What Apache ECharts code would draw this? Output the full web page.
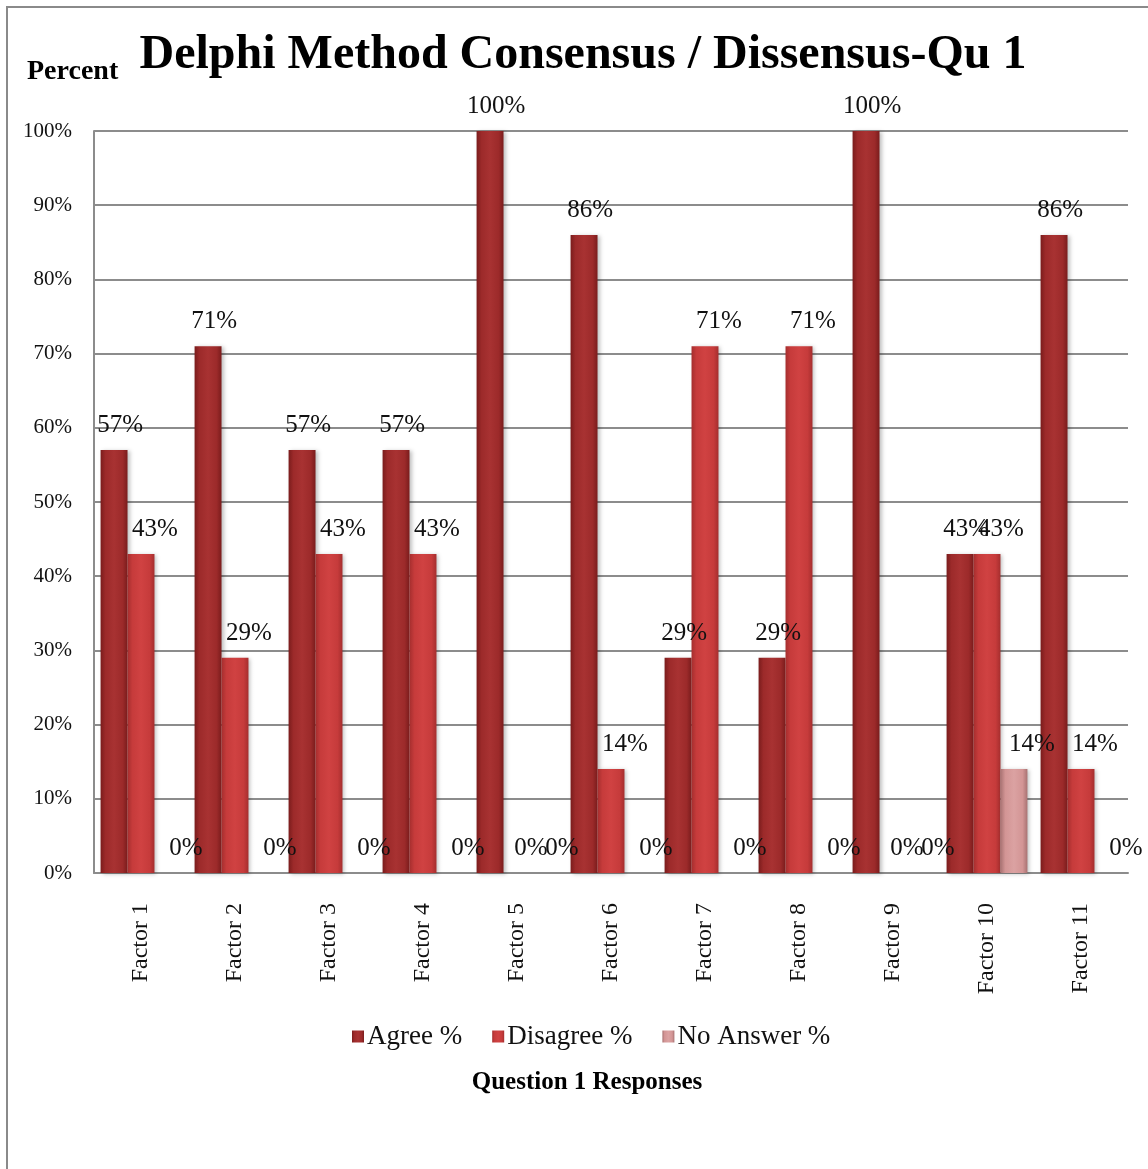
<!DOCTYPE html>
<html>
<head>
<meta charset="utf-8">
<style>
  html, body { margin: 0; padding: 0; background: #ffffff; }
  #chart { width: 1148px; height: 1169px; }
</style>
<script src="https://cdn.jsdelivr.net/npm/echarts@6/dist/echarts.min.js"></script>
</head>
<body>
<div id="chart"></div>
<script>
// Question 1 responses per factor, in percent
const factors = ['Factor 1', 'Factor 2', 'Factor 3', 'Factor 4', 'Factor 5', 'Factor 6',
                 'Factor 7', 'Factor 8', 'Factor 9', 'Factor 10', 'Factor 11'];
const agree    = [57, 71, 57, 57, 100, 86, 29, 29, 100, 43, 86];
const disagree = [43, 29, 43, 43, 0, 14, 71, 71, 0, 43, 14];
const noAnswer = [0, 0, 0, 0, 0, 0, 0, 0, 0, 14, 0];
const seriesNames = ['Agree %', 'Disagree %', 'No Answer %'];

const SERIF = '"Liberation Serif", "Times New Roman", serif';

function cylinder(edge, mid, light) {
  return new echarts.graphic.LinearGradient(0, 0, 1, 0, [
    { offset: 0, color: edge },
    { offset: 0.18, color: mid },
    { offset: 0.5, color: light },
    { offset: 0.82, color: mid },
    { offset: 1, color: edge }
  ]);
}

const palette = [
  { fill: cylinder('#7a1c1c', '#9c2a2a', '#a83232'), legend: '#9c2a2a', dx: 6 },
  { fill: cylinder('#a52e2e', '#c63b3b', '#d04242'), legend: '#c63b3b', dx: 14 },
  { fill: cylinder('#a87272', '#d39595', '#dba2a2'), legend: '#d39595', dx: 18 }
];

function barSeries(name, values, idx) {
  const p = palette[idx];
  return {
    name: name,
    type: 'bar',
    data: values,
    barGap: '0%',
    barCategoryGap: '14%',
    itemStyle: {
      color: p.fill,
      shadowColor: 'rgba(0,0,0,0.25)',
      shadowBlur: 4,
      shadowOffsetX: 2,
      shadowOffsetY: 1
    },
    label: {
      show: true,
      position: 'top',
      distance: 12,
      offset: [p.dx, 0],
      formatter: '{c}%',
      fontFamily: SERIF,
      fontSize: 25,
      color: '#111'
    }
  };
}

const chart = echarts.init(document.getElementById('chart'), null, { renderer: 'canvas' });

chart.setOption({
  animation: false,
  backgroundColor: '#ffffff',
  color: palette.map(p => p.legend),
  title: {
    text: 'Delphi Method Consensus / Dissensus-Qu 1',
    left: 578,
    textAlign: 'center',
    top: 27,
    textStyle: { fontFamily: SERIF, fontWeight: 'bold', fontSize: 48, color: '#000' }
  },
  graphic: [
    {
      type: 'rect',
      shape: { x: 7, y: 7, width: 1160, height: 1180 },
      style: { fill: 'none', stroke: '#8a8a8a', lineWidth: 2 },
      silent: true
    },
    {
      type: 'text',
      left: 27,
      top: 58,
      style: { text: 'Percent', font: 'bold 28px ' + SERIF, fill: '#000' }
    },
    {
      type: 'text',
      x: 587,
      y: 1083,
      style: {
        text: 'Question 1 Responses',
        font: 'bold 25px ' + SERIF,
        fill: '#000',
        align: 'center',
        verticalAlign: 'middle'
      }
    }
  ],
  legend: {
    data: seriesNames,
    left: 347,
    top: 1018,
    itemWidth: 12,
    itemHeight: 12,
    itemGap: 30,
    icon: 'rect',
    textStyle: { fontFamily: SERIF, fontSize: 27, color: '#111', padding: [0, 0, 0, -2] }
  },
  grid: { left: 94, right: 20, top: 131, bottom: 296, containLabel: false },
  xAxis: {
    type: 'category',
    data: factors,
    axisLine: { lineStyle: { color: '#8c8c8c', width: 2 } },
    axisTick: { show: false },
    axisLabel: {
      rotate: 90,
      margin: 30,
      fontFamily: SERIF,
      fontSize: 24,
      color: '#111'
    }
  },
  yAxis: {
    type: 'value',
    min: 0,
    max: 100,
    interval: 10,
    axisLine: { show: true, lineStyle: { color: '#8c8c8c', width: 2 } },
    axisTick: { show: false },
    splitLine: { lineStyle: { color: '#8c8c8c', width: 2 } },
    axisLabel: {
      formatter: '{value}%',
      margin: 22,
      fontFamily: SERIF,
      fontSize: 21,
      color: '#111'
    }
  },
  series: [
    barSeries(seriesNames[0], agree, 0),
    barSeries(seriesNames[1], disagree, 1),
    barSeries(seriesNames[2], noAnswer, 2)
  ]
});
</script>
</body>
</html>
